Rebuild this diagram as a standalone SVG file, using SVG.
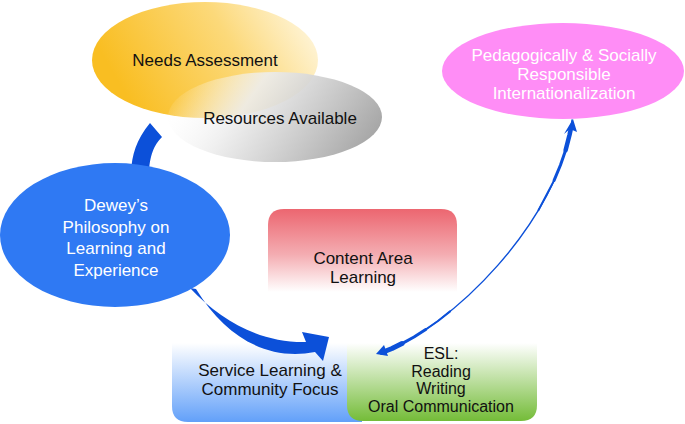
<svg xmlns="http://www.w3.org/2000/svg" width="685" height="424" viewBox="0 0 685 424">
<defs>
<linearGradient id="gNeeds" x1="0" y1="0.3" x2="1" y2="0">
<stop offset="0" stop-color="#F9BE22"/>
<stop offset="0.55" stop-color="#FCD97A"/>
<stop offset="1" stop-color="#FFFBEF"/>
</linearGradient>
<linearGradient id="gRes" x1="0" y1="0.3" x2="1" y2="0.6">
<stop offset="0" stop-color="#FFFFFF" stop-opacity="0"/>
<stop offset="0.35" stop-color="#EDEDED" stop-opacity="0.9"/>
<stop offset="1" stop-color="#A6A6A6"/>
</linearGradient>
<linearGradient id="gContent" x1="0" y1="0" x2="0" y2="1">
<stop offset="0" stop-color="#EC6670"/>
<stop offset="0.55" stop-color="#F4ADB2"/>
<stop offset="1" stop-color="#FFFFFF"/>
</linearGradient>
<linearGradient id="gService" x1="0" y1="0" x2="0" y2="1">
<stop offset="0" stop-color="#FFFFFF"/>
<stop offset="1" stop-color="#62A0F9"/>
</linearGradient>
<linearGradient id="gESL" x1="0" y1="0" x2="0" y2="1">
<stop offset="0" stop-color="#FFFFFF"/>
<stop offset="1" stop-color="#74BC38"/>
</linearGradient>
<style>
.t{font-family:"Liberation Sans",Arial,sans-serif;font-size:17px;text-anchor:middle}
.s{font-size:16px}
.dark{fill:#111111}
.light{fill:#FFFFFF}
.arr{fill:#0C50D9}
.arrs{fill:none;stroke:#0C50D9;stroke-linecap:round;stroke-linejoin:round}
</style>
</defs>
<rect width="685" height="424" fill="#FFFFFF"/>

<g id="needs">
<ellipse cx="205" cy="60" rx="113" ry="58" fill="url(#gNeeds)"/>
<text class="t dark" x="205" y="66">Needs Assessment</text>
</g>
<g id="resources">
<ellipse cx="275" cy="117" rx="107" ry="45" fill="url(#gRes)"/>
<text class="t dark" x="280" y="124">Resources Available</text>
</g>

<g id="content">
<path d="M268,292 V225 Q268,209 284,209 H441 Q457,209 457,225 V292 Z" fill="url(#gContent)"/>
<text class="t dark" x="363" y="264">Content Area</text>
<text class="t dark" x="363" y="283">Learning</text>
</g>

<g id="service">
<path d="M172,343 H362 V422 H188 Q172,422 172,406 Z" fill="url(#gService)"/>
<text class="t dark" x="270" y="376">Service Learning &amp;</text>
<text class="t dark" x="270" y="395">Community Focus</text>
</g>

<g id="esl">
<path d="M347,343 H537 V405 Q537,421 521,421 H363 Q347,421 347,405 Z" fill="url(#gESL)"/>
<text class="t s dark" x="441" y="359">ESL:</text>
<text class="t s dark" x="441" y="376.5">Reading</text>
<text class="t s dark" x="441" y="394">Writing</text>
<text class="t s dark" x="441" y="411.5">Oral Communication</text>
</g>

<g id="connectors">
<path class="arr" d="M131,172 C132,155 136,140 150,123 L162,137 C156,143 150,152 149,172 Z"/>
<path class="arr" d="M190,288 C222,322 262,343 306,342 L302,332 L329,337 L323,361 L315,352 C268,361 226,338 196,289 Z"/>
<path class="arrs" stroke-width="1.4" d="M380,353 C450,330 560,220 572,120"/>
<polyline class="arrs" stroke-width="5" points="382,352.5 392,348.5 402,343.6"/>
<polyline class="arrs" stroke-width="3" points="402,343.6 414,337 425.7,329.5"/>
<polyline class="arrs" stroke-width="2" points="425.7,329.5 438,321 450.1,311.4"/>
<polyline class="arrs" stroke-width="2" points="538.5,210.1 554.1,180.4"/>
<polyline class="arrs" stroke-width="3" points="554.1,180.4 560.5,165 565.6,150.2"/>
<polyline class="arrs" stroke-width="4.5" points="565.6,150.2 569.5,135 571,128"/>
<polygon class="arr" points="376,354 384,345 388,356"/>
<polygon class="arr" points="573,119 577,132 570,129 564,134"/>
</g>

<g id="dewey">
<ellipse cx="115" cy="235" rx="115" ry="72" fill="#2F79F3"/>
<text class="t light" x="116" y="211">Dewey’s</text>
<text class="t light" x="116" y="232.5">Philosophy on</text>
<text class="t light" x="116" y="254">Learning and</text>
<text class="t light" x="116" y="275.5">Experience</text>
</g>

<g id="goal">
<ellipse cx="563" cy="71" rx="121" ry="48" fill="#FF8DF6"/>
<text class="t light" x="564" y="61">Pedagogically &amp; Socially</text>
<text class="t light" x="564" y="80">Responsible</text>
<text class="t light" x="564" y="99">Internationalization</text>
</g>
</svg>
